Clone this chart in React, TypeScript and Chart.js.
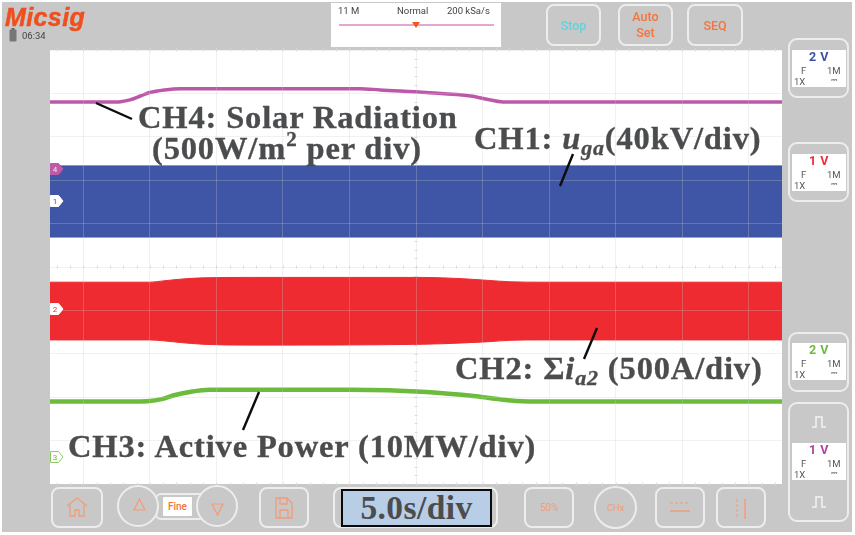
import React, { useEffect, useRef } from "react";
import { Chart, registerables } from "chart.js";

Chart.register(...registerables);

// Time in seconds from the left edge of the screen (5 s/div), values in screen divisions from the bottom.
const solarTime = [0, 4.4, 5.3, 6, 6.8, 7.5, 8.6, 9.8, 15, 23.3, 24.8, 28.3, 31.6, 33.1, 34.2, 55];
const solarDiv = [8.8, 8.8, 8.81, 8.85, 8.94, 9.02, 9.08, 9.11, 9.11, 9.11, 9.08, 9.02, 8.94, 8.85, 8.8, 8.8];

const voltageTime = [0, 55];
const voltageUpper = [7.33, 7.33];
const voltageLower = [5.69, 5.69];

const currentTime = [0, 7.5, 8.5, 9.8, 11.5, 15, 28, 31, 33, 34.5, 37, 55];
const currentUpper = [4.65, 4.65, 4.68, 4.72, 4.75, 4.76, 4.76, 4.73, 4.69, 4.66, 4.65, 4.65];
const currentLower = [3.32, 3.32, 3.3, 3.26, 3.22, 3.2, 3.22, 3.25, 3.28, 3.31, 3.32, 3.32];

const powerTime = [0, 6.5, 7.5, 8.3, 9.4, 10.5, 12, 22.5, 28.3, 32, 33.8, 35, 36, 55];
const powerDiv = [1.9, 1.9, 1.91, 1.95, 2.05, 2.12, 2.17, 2.17, 2.12, 2.02, 1.95, 1.91, 1.9, 1.9];

const xGrid = [2.5, 7.5, 12.5, 17.5, 22.5, 27.5, 32.5, 37.5, 42.5, 47.5, 52.5];

const pts = (t: number[], v: number[]) => t.map((x, i) => ({ x, y: v[i] }));

const ORANGE = "#f59a76";
const BTN = "#ededed";

const centerTicks = {
  id: "centerTicks",
  beforeDatasetsDraw(chart: any) {
    const { ctx, scales } = chart;
    const { x, y } = scales;
    ctx.save();
    ctx.strokeStyle = "#dddddd";
    ctx.lineWidth = 1;
    ctx.beginPath();
    for (let t = 0.5; t < 55; t += 1) {
      const px = Math.round(x.getPixelForValue(t)) + 0.5;
      for (const v of [0, 5, 10]) {
        const py = y.getPixelForValue(v);
        ctx.moveTo(px, py - 1.5);
        ctx.lineTo(px, py + 1.5);
      }
    }
    for (let d = 0.2; d < 10; d += 0.2) {
      const py = Math.round(y.getPixelForValue(d)) + 0.5;
      for (const t of [27.5]) {
        const px = x.getPixelForValue(t);
        ctx.moveTo(px - 1.5, py);
        ctx.lineTo(px + 1.5, py);
      }
    }
    ctx.stroke();
    ctx.restore();
  },
};

const Box = ({ l, t, w, h, r = 8, children, bg, border = BTN, style }: any) => (
  <div
    style={{
      position: "absolute",
      left: l,
      top: t,
      width: w,
      height: h,
      boxSizing: "border-box",
      border: border ? `2px solid ${border}` : "none",
      borderRadius: r,
      background: bg,
      display: "flex",
      alignItems: "center",
      justifyContent: "center",
      textAlign: "center",
      ...style,
    }}
  >
    {children}
  </div>
);

const Txt = ({ l, t, size, color, weight = 400, font = "Roboto, sans-serif", children, style }: any) => (
  <div
    style={{
      position: "absolute",
      left: l,
      top: t,
      fontSize: size,
      color,
      fontWeight: weight,
      fontFamily: font,
      lineHeight: 1,
      whiteSpace: "nowrap",
      ...style,
    }}
  >
    {children}
  </div>
);

const Channel = ({ top, height, volts, color, inner }: any) => (
  <>
    <Box l={788} t={top} w={61} h={height} r={9} />
    <div style={{ position: "absolute", left: 792, top: inner, width: 54, height: 37, background: "#fff" }} />
    <Txt l={792} t={inner + 1} size={12.5} weight={700} color={color} style={{ width: 54, textAlign: "center", letterSpacing: 0.5 }}>
      {volts}
    </Txt>
    <Txt l={801} t={inner + 16} size={9.5} color="#555">F</Txt>
    <Txt l={827} t={inner + 16} size={9.5} color="#555">1M</Txt>
    <Txt l={794} t={inner + 27} size={9.5} color="#555">1X</Txt>
    <Txt l={831} t={inner + 27} size={8} color="#999">⎓</Txt>
  </>
);

const Pulse = ({ y }: { y: number }) => (
  <svg style={{ position: "absolute", left: 810, top: y, width: 18, height: 14 }} viewBox="0 0 18 14">
    <path d="M2 12H6V2H12V12H16" stroke="#f2f2f2" strokeWidth="1.6" fill="none" />
  </svg>
);

const Flag = ({ y, label, fill, text, stroke }: any) => (
  <svg style={{ position: "absolute", left: 50, top: y - 6, width: 16, height: 12 }} viewBox="0 0 16 12">
    <path d="M0.5 0.5H8.5L13 6L8.5 11.5H0.5Z" fill={fill} stroke={stroke} />
    <text x="5" y="9" fontSize="8" fontFamily="Roboto, sans-serif" fill={text} textAnchor="middle">
      {label}
    </text>
  </svg>
);

const ANNOT: React.CSSProperties = {
  position: "absolute",
  fontFamily: "'Liberation Serif', serif",
  fontWeight: 700,
  color: "#4b4c4e",
  fontSize: 32.5,
  lineHeight: 1,
  whiteSpace: "nowrap",
  letterSpacing: 0.85,
  WebkitTextStroke: "0.35px #4b4c4e",
};

export default function App() {
  const ref = useRef<HTMLCanvasElement>(null);

  useEffect(() => {
    document.body.style.margin = "0";
    const line = (label: string, data: any[], color: string, width: number) => ({
      label,
      data,
      borderColor: color,
      borderWidth: width,
      pointRadius: 0,
      fill: false,
      cubicInterpolationMode: "monotone" as const,
    });
    const band = (label: string, data: any[], color: string, fill: any) => ({
      label,
      data,
      borderColor: color,
      backgroundColor: color,
      borderWidth: 1,
      pointRadius: 0,
      fill,
      cubicInterpolationMode: "monotone" as const,
    });
    const chart = new Chart(ref.current!, {
      type: "line",
      data: {
        datasets: [
          band("CH1 upper", pts(voltageTime, voltageUpper), "#3f55a5", false),
          band("CH1 lower", pts(voltageTime, voltageLower), "#3f55a5", "-1"),
          band("CH2 upper", pts(currentTime, currentUpper), "#ee2b30", false),
          band("CH2 lower", pts(currentTime, currentLower), "#ee2b30", "-1"),
          line("CH3", pts(powerTime, powerDiv), "#6cbb3c", 4.5),
          line("CH4", pts(solarTime, solarDiv), "#bd58a8", 3.5),
        ],
      },
      options: {
        animation: false,
        responsive: false,
        devicePixelRatio: 1,
        layout: { padding: { left: 50, right: 73, top: 50, bottom: 51 } },
        plugins: { legend: { display: false }, tooltip: { enabled: false } },
        scales: {
          x: {
            type: "linear",
            min: 0,
            max: 55,
            afterBuildTicks: (s: any) => {
              s.ticks = xGrid.map((value) => ({ value }));
            },
            ticks: { display: false },
            border: { display: false },
            grid: { color: "rgba(205,205,205,0.28)", drawTicks: false, z: 1 },
          },
          y: {
            type: "linear",
            min: 0,
            max: 10,
            ticks: { display: false, stepSize: 1 },
            border: { display: false },
            grid: { color: "rgba(205,205,205,0.28)", drawTicks: false, z: 1 },
          },
        },
      },
      plugins: [
        {
          id: "plotBg",
          beforeDraw(c: any) {
            const { ctx, chartArea: a } = c;
            ctx.save();
            ctx.fillStyle = "#fff";
            ctx.fillRect(a.left, a.top, a.width, a.height);
            ctx.restore();
          },
        },
        centerTicks,
      ],
    } as any);
    return () => chart.destroy();
  }, []);

  return (
    <div style={{ position: "absolute", left: 0, top: 0, width: 855, height: 535, background: "#fff", overflow: "hidden" }}>
      <div style={{ position: "absolute", left: 2, top: 2, width: 850, height: 530, background: "#c8c8c8" }} />
      <canvas ref={ref} width={855} height={535} style={{ position: "absolute", left: 0, top: 0, width: 855, height: 535 }} />

      <div style={{ position: "absolute", inset: 0, filter: "blur(0.45px)" }}>
        <Txt l={5} t={5} size={25} weight={900} color="#ef4f1e" font="'Liberation Sans', sans-serif" style={{ fontStyle: "italic", letterSpacing: 0.4, WebkitTextStroke: "0.5px #ef4f1e" }}>
          Micsig
        </Txt>
        <svg style={{ position: "absolute", left: 9, top: 28, width: 8, height: 14 }} viewBox="0 0 8 14">
          <rect x="2.5" y="0" width="3" height="2" fill="#666" />
          <rect x="0.5" y="1.5" width="7" height="12" rx="1" fill="#777" />
        </svg>
        <Txt l={22} t={31} size={9.5} color="#444">06:34</Txt>

        <div style={{ position: "absolute", left: 331, top: 3, width: 170, height: 44, background: "#fff" }} />
        <Txt l={338} t={6} size={9.5} color="#444">11 M</Txt>
        <Txt l={397} t={6} size={9.5} color="#444">Normal</Txt>
        <Txt l={447} t={6} size={9.5} color="#444">200 kSa/s</Txt>
        <div style={{ position: "absolute", left: 339, top: 24, width: 155, height: 1.5, background: "#e6a6d4" }} />
        <svg style={{ position: "absolute", left: 412, top: 22, width: 8, height: 6 }} viewBox="0 0 8 6">
          <path d="M0 0H8L4 6Z" fill="#ef5a22" />
        </svg>

        <Box l={546} t={4} w={55} h={42}>
          <span style={{ font: "500 12.5px Roboto, sans-serif", color: "#5fd3dd" }}>Stop</span>
        </Box>
        <Box l={618} t={4} w={55} h={42}>
          <span style={{ font: "500 12.5px/16px Roboto, sans-serif", color: "#f4743a" }}>Auto<br />Set</span>
        </Box>
        <Box l={687} t={4} w={56} h={42}>
          <span style={{ font: "500 12.5px Roboto, sans-serif", color: "#f4743a" }}>SEQ</span>
        </Box>

        <Channel top={38} height={60} volts="2 V" color="#3b4fa8" inner={50} />
        <Channel top={142} height={60} volts="1 V" color="#ee2b30" inner={154} />
        <Channel top={332} height={60} volts="2 V" color="#6cbb3c" inner={343} />
        <Channel top={402} height={120} volts="1 V" color="#b43ca0" inner={443} />
        <Pulse y={415} />
        <Pulse y={495} />

        <Box l={51} t={487} w={52} h={41} />
        <svg style={{ position: "absolute", left: 65, top: 496, width: 24, height: 22 }} viewBox="0 0 24 22">
          <path d="M2 10L12 2L22 10M5 9V20H10V14H14V20H19V9" stroke={ORANGE} strokeWidth="1.3" fill="none" />
        </svg>
        <Box l={155} t={493} w={50} h={27} r={6} />
        <Box l={117} t={485} w={42} h={42} r={21} bg="#c8c8c8" />
        <Box l={196} t={485} w={42} h={42} r={21} bg="#c8c8c8" />
        <svg style={{ position: "absolute", left: 133, top: 498, width: 13, height: 13 }} viewBox="0 0 13 13">
          <path d="M6.5 1L12 12H1Z" stroke={ORANGE} strokeWidth="1.2" fill="none" />
        </svg>
        <svg style={{ position: "absolute", left: 211, top: 503, width: 13, height: 13 }} viewBox="0 0 13 13">
          <path d="M1 1H12L6.5 12Z" stroke={ORANGE} strokeWidth="1.2" fill="none" />
        </svg>
        <Box l={163} t={497} w={29} h={19} r={1} border="" bg="#fff">
          <span style={{ font: "500 10px Roboto, sans-serif", color: "#f4743a" }}>Fine</span>
        </Box>

        <Box l={259} t={487} w={50} h={41} />
        <svg style={{ position: "absolute", left: 275, top: 497, width: 18, height: 22 }} viewBox="0 0 18 22">
          <path d="M1 1H12L17 6V21H1Z M5 1V7H12V1 M5 21V13H13V21" stroke={ORANGE} strokeWidth="1.3" fill="none" />
        </svg>

        <Box l={333} t={487} w={165} h={41} />
        <Box l={524} t={487} w={50} h={41}>
          <span style={{ font: "400 10px Roboto, sans-serif", color: ORANGE }}>50%</span>
        </Box>
        <Box l={594} t={486} w={43} h={43} r={22}>
          <span style={{ font: "400 9.5px Roboto, sans-serif", color: ORANGE }}>CHx</span>
        </Box>
        <Box l={655} t={487} w={50} h={41} />
        <svg style={{ position: "absolute", left: 669, top: 501, width: 22, height: 12 }} viewBox="0 0 22 12">
          <path d="M1 2H21" stroke={ORANGE} strokeWidth="1" strokeDasharray="3 2" />
          <path d="M1 10H21" stroke={ORANGE} strokeWidth="1.4" />
        </svg>
        <Box l={716} t={487} w={50} h={41} />
        <svg style={{ position: "absolute", left: 735, top: 498, width: 12, height: 22 }} viewBox="0 0 12 22">
          <path d="M2 1V21" stroke={ORANGE} strokeWidth="1" strokeDasharray="3 2" />
          <path d="M10 1V21" stroke={ORANGE} strokeWidth="1.4" />
        </svg>

        <Flag y={169} label="4" fill="#c05aa8" text="#eed" stroke="#c05aa8" />
        <Flag y={201} label="1" fill="#fff" text="#3f55a5" stroke="#fff" />
        <Flag y={309} label="2" fill="#fff" text="#ee2b30" stroke="#fff" />
        <Flag y={457} label="3" fill="#fff" text="#6cbb3c" stroke="#8ccc66" />
      </div>

      <svg style={{ position: "absolute", left: 0, top: 0, width: 855, height: 535 }} viewBox="0 0 855 535">
        <g stroke="#0c0c0c" strokeWidth="2.4">
          <line x1="96" y1="103" x2="132" y2="119" />
          <line x1="573" y1="154" x2="560" y2="186" />
          <line x1="597" y1="328" x2="584" y2="359" />
          <line x1="259" y1="392" x2="243" y2="430" />
        </g>
      </svg>

      <div style={{ ...ANNOT, left: 138, top: 101 }}>CH4: Solar Radiation</div>
      <div style={{ ...ANNOT, left: 152, top: 132 }}>
        (500W/m<sup style={{ fontSize: 21, lineHeight: 0, verticalAlign: "baseline", position: "relative", top: -13 }}>2</sup> per div)
      </div>
      <div style={{ ...ANNOT, left: 474, top: 122 }}>
        CH1: <i>u<sub style={{ fontSize: 22, lineHeight: 0, verticalAlign: "baseline", position: "relative", top: 6 }}>ga</sub></i>(40kV/div)
      </div>
      <div style={{ ...ANNOT, left: 455, top: 352 }}>
        CH2: Σ<i>i<sub style={{ fontSize: 22, lineHeight: 0, verticalAlign: "baseline", position: "relative", top: 6 }}>a2</sub></i> (500A/div)
      </div>
      <div style={{ ...ANNOT, left: 68, top: 430 }}>CH3: Active Power (10MW/div)</div>

      <div
        style={{
          position: "absolute",
          left: 341,
          top: 489,
          width: 151,
          height: 38,
          boxSizing: "border-box",
          border: "2.5px solid #0a0a0a",
          background: "#b8cde6",
          display: "flex",
          alignItems: "center",
          justifyContent: "center",
          ...{ fontFamily: "'Liberation Serif', serif", fontWeight: 700, fontSize: 33.5, letterSpacing: 0.4, color: "#4b4c4e" },
        }}
      >
        5.0s/div
      </div>
    </div>
  );
}
